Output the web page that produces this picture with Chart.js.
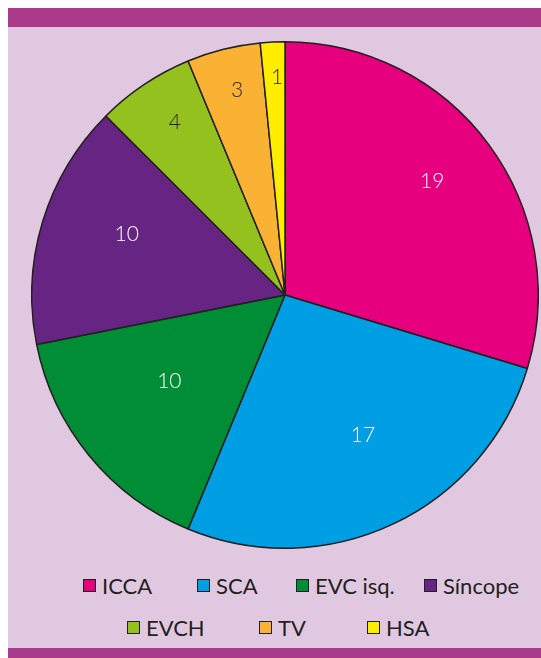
<!DOCTYPE html>
<html>
<head>
<meta charset="utf-8">
<script src="https://cdn.jsdelivr.net/npm/chart.js@4"></script>
<style>
  html, body { margin: 0; padding: 0; width: 541px; height: 658px; overflow: hidden; background: #ffffff; }
  #panel { position: absolute; left: 8px; top: 27px; width: 533px; height: 621px; background: #e1c8e1; }
  #topbar { position: absolute; left: 8px; top: 8px; width: 533px; height: 19px; background: #aa3a8a; }
  #botbar { position: absolute; left: 8px; top: 648px; width: 533px; height: 10px; background: #aa3a8a; }
  #wrap { position: absolute; left: 31px; top: 41px; width: 508px; height: 508px; }
  .item { position: absolute; display: flex; align-items: center; height: 14px; font-family: Lato, "Open Sans", sans-serif; font-weight: 400; font-size: 22px; color: #231f20; white-space: nowrap; }
  .box { width: 11px; height: 11px; border: 1.5px solid #231f20; margin-right: 6px; flex: none; }
</style>
</head>
<body>
<div id="topbar"></div>
<div id="panel"></div>
<div id="botbar"></div>
<div id="wrap"><canvas id="c" width="508" height="508"></canvas></div>
<div id="legend"></div>
<script>
const categories = ["ICCA", "SCA", "EVC isq.", "Síncope", "EVCH", "TV", "HSA"];
const values = [19, 17, 10, 10, 4, 3, 1];
const colors = ["#e6007e", "#009fe3", "#008d36", "#662483", "#95c11f", "#f9b233", "#ffed00"];
const labelColors = ["#ffffff", "#ffffff", "#ffffff", "#ffffff", "#231f20", "#231f20", "#231f20"];
const labelRadius = [0.735, 0.633, 0.57, 0.67, 0.81, 0.83, 0.86];
const labelAngleShift = [-1.2, -3.8, 2.6, 4.2, 1.3, 0.9, 0.7];
const legendPos = [[83, 585], [197, 585], [296, 585], [424, 585], [127, 627.5], [259, 627.5], [367, 627.5]];

const sliceLabels = {
  id: 'sliceLabels',
  afterDatasetsDraw(chart) {
    const ctx = chart.ctx;
    const meta = chart.getDatasetMeta(0);
    ctx.save();
    ctx.font = '300 21px Lato, "Open Sans", sans-serif';
    ctx.textAlign = 'center';
    ctx.textBaseline = 'middle';
    meta.data.forEach((arc, i) => {
      const p = arc.getProps(['x', 'y', 'startAngle', 'endAngle', 'outerRadius'], true);
      const mid = (p.startAngle + p.endAngle) / 2 + labelAngleShift[i] * Math.PI / 180;
      const r = p.outerRadius * labelRadius[i];
      ctx.fillStyle = labelColors[i];
      ctx.fillText(String(values[i]), p.x + Math.cos(mid) * r, p.y + Math.sin(mid) * r);
    });
    ctx.restore();
  }
};

new Chart(document.getElementById('c'), {
  type: 'pie',
  data: {
    labels: categories,
    datasets: [{
      data: values,
      backgroundColor: colors,
      borderColor: '#231f20',
      borderWidth: 1.5
    }]
  },
  options: {
    responsive: false,
    animation: false,
    layout: { padding: 0 },
    plugins: { legend: { display: false }, tooltip: { enabled: false } }
  },
  plugins: [sliceLabels]
});

const legend = document.getElementById('legend');
categories.forEach((name, i) => {
  const it = document.createElement('div');
  it.className = 'item';
  it.style.left = legendPos[i][0] + 'px';
  it.style.top = (legendPos[i][1] - 7) + 'px';
  const b = document.createElement('span');
  b.className = 'box';
  b.style.background = colors[i];
  const t = document.createElement('span');
  t.textContent = name;
  it.appendChild(b);
  it.appendChild(t);
  legend.appendChild(it);
});
</script>
</body>
</html>
